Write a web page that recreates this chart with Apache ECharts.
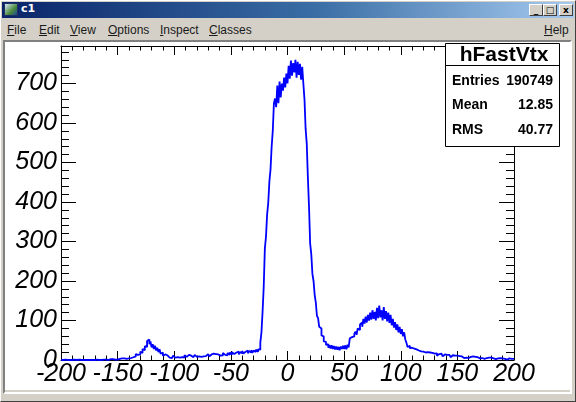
<!DOCTYPE html>
<html><head><meta charset="utf-8">
<script src="https://cdn.jsdelivr.net/npm/echarts@6/dist/echarts.min.js"></script>
<style>
html,body{margin:0;padding:0;width:576px;height:402px;overflow:hidden;background:#d4d0c8;font-family:'Liberation Sans',Arial,sans-serif;}
.abs{position:absolute;}
#winborder{left:0;top:0;width:574px;height:400px;border:1px solid;border-color:#ffffff #404040 #404040 #ffffff;}
#title{left:2px;top:2px;width:572px;height:16px;background:linear-gradient(to right,#0a246a 0%,#3a6ea5 55%,#a6caf0 100%);}
#icon{left:4px;top:3px;width:12px;height:11px;background:linear-gradient(135deg,#d8e8ff,#4a8a3a 60%,#1a4a9a);border:1px solid #203060;}
#ttext{left:21px;top:2px;height:16px;line-height:16px;color:#fff;font:bold 11px 'DejaVu Sans',sans-serif;}
.btn{top:4px;width:14px;height:12px;background:#d4d0c8;border:1px solid;border-color:#ffffff #404040 #404040 #ffffff;font:bold 9px 'DejaVu Sans',sans-serif;line-height:11px;text-align:center;color:#000;box-sizing:border-box;}
.menu{top:22px;height:16px;line-height:16px;font-size:12px;color:#1a1a1a;}
#canvasframe{left:3px;top:40px;width:565px;height:350px;border:2px solid;border-color:#808080 #ffffff #ffffff #808080;}
#chart{left:5px;top:42px;width:565px;height:348px;background:#fff;}
</style></head>
<body>
<div class="abs" id="winborder"></div>
<div class="abs" id="title"></div>
<div class="abs" id="icon"></div>
<div class="abs" id="ttext">c1</div>
<div class="abs btn" style="left:529px;">_</div>
<div class="abs btn" style="left:543px;">□</div>
<div class="abs btn" style="left:559px;">x</div>
<div class="abs menu" style="left:7px;"><u>F</u>ile</div>
<div class="abs menu" style="left:39px;"><u>E</u>dit</div>
<div class="abs menu" style="left:70px;"><u>V</u>iew</div>
<div class="abs menu" style="left:108px;"><u>O</u>ptions</div>
<div class="abs menu" style="left:160px;"><u>I</u>nspect</div>
<div class="abs menu" style="left:209px;"><u>C</u>lasses</div>
<div class="abs menu" style="left:544px;"><u>H</u>elp</div>
<div class="abs" id="canvasframe"></div>
<div class="abs" id="chart"></div>
<script>
// Histogram hFastVtx: 400 bins of width 1 from -200 to 200
const xMin = -200, xMax = 200, binWidth = 1;
const yMax = 795;
// bins -200 .. -151
const countsFlatLeft = [0,0,0,1,0,0,0,0,1,0, 0,1,0,0,0,1,0,0,0,0, 0,0,1,0,0,0,1,0,1,0, 0,1,0,0,1,0,0,1,0,1, 1,0,1,2,0,2,1,1,3,1];
// bins -150 .. -106 (small peak)
const countsSmallPeak = [1,3,2,4,2,4,5,3,6,4, 7,5,10,7,12,9,15,13,17,14, 21,18,28,25,35,33,48,52,40,47, 32,40,28,36,24,31,20,27,16,19, 11,14,9,12,7];
// bins -105 .. -26 (slow rising floor)
const countsFloor = [6,10,5,9,11,6,10,7,12,6, 10,7,11,6,12,8,7,13,8,11, 12,7,11,13,8,12,9,14,8,13, 9,14,10,8,15,11,9,14,10,16, 11,15,10,14,17,11,16,12,18,13, 16,12,18,13,19,14,20,15,13,19, 16,21,14,20,17,23,16,21,18,24, 17,23,19,25,18,24,20,26,21,27];
// bins -25 .. 34 (main peak)
const countsMainPeak = [26,44,70,122,185,282,312,368,398,452, 482,540,580,650,662,640,695,650,705,665, 700,682,715,690,725,700,745,712,758,720, 752,728,760,715,755,722,750,710,742,700, 660,585,548,462,388,295,268,218,200,165, 145,112,106,84,80,62,60,47,46,38];
// bins 35 .. 120 (valley and second bump)
const countsSecondBump = [40,31,38,29,37,28,35,27,34,26, 33,25,34,28,36,28,37,27,39,32, 55,58,62,60,66,72,64,80,76,90, 95,84,104,92,110,95,114,100,120,102, 126,104,122,100,132,106,138,108,126,100, 134,104,124,98,120,94,114,88,104,82, 96,76,90,70,84,66,78,60,70,52, 44,33,36,30,31,27,29,25,27,23, 24,21,22,20,21,19];
// bins 121 .. 199 (tail)
const countsTail = [19,16,20,15,19,14,18,13,16,12, 17,11,15,10,16,11,9,14,10,13, 8,13,9,7,12,8,11,6,11,7, 10,6,9,11,5,9,6,10,5,9, 8,4,9,5,8,4,7,8,4,7, 5,7,3,6,5,2,6,3,6,3, 4,5,2,5,4,2,5,1,4,2, 3,4,1,3,4,1,3,2,3];
const counts = [].concat(countsFlatLeft, countsSmallPeak, countsFloor, countsMainPeak, countsSecondBump, countsTail);

const statsTitle = 'hFastVtx';
const statsLabels = ['Entries', 'Mean', 'RMS'];
const statsValues = ['190749', '12.85', '40.77'];

const stepData = counts.map((c, i) => [xMin + i * binWidth, c]);
stepData.push([xMax, counts[counts.length - 1]]);

const FONT = "'Liberation Sans', Arial, Helvetica, sans-serif";
const black = {color: '#000', width: 1};

function xAx(pos, labels) {
  return {
    type: 'value', min: xMin, max: xMax, interval: 50, position: pos,
    axisLine: {show: true, onZero: false, lineStyle: black},
    axisTick: {show: true, inside: true, length: 9, lineStyle: black},
    minorTick: {show: true, splitNumber: 5, length: 4.5, lineStyle: black},
    splitLine: {show: false}, minorSplitLine: {show: false},
    axisLabel: {show: labels, color: '#000', fontSize: 25, fontStyle: 'italic', fontFamily: FONT, margin: 2, showMinLabel: true, showMaxLabel: true}
  };
}
function yAx(pos, labels) {
  return {
    type: 'value', min: 0, max: yMax, interval: 100, position: pos,
    axisLine: {show: true, onZero: false, lineStyle: black},
    axisTick: {show: true, inside: true, length: 15, lineStyle: black},
    minorTick: {show: true, splitNumber: 5, length: 8, lineStyle: black},
    splitLine: {show: false}, minorSplitLine: {show: false},
    axisLabel: {show: labels, color: '#000', fontSize: 25, fontStyle: 'italic', fontFamily: FONT, margin: 4, showMinLabel: true,
      formatter: v => (v % 100 === 0 ? String(v) : '')}
  };
}

const chart = echarts.init(document.getElementById('chart'), null, {renderer: 'canvas'});
const boxL = 440, boxT = 1, boxW = 114, boxH = 103;
const graphic = [
  {type: 'rect', z: 100, shape: {x: boxL + 0.5, y: boxT + 0.5, width: boxW, height: boxH}, style: {fill: '#fff', stroke: '#000', lineWidth: 1}},
  {type: 'line', z: 101, shape: {x1: boxL + 0.5, y1: 23.5, x2: boxL + boxW + 0.5, y2: 23.5}, style: {stroke: '#000', lineWidth: 1}},
  {type: 'text', z: 102, style: {text: statsTitle, x: 499, y: 13, align: 'center', verticalAlign: 'middle', font: 'bold 21px ' + FONT, fill: '#000'}}
];
const rowY = [39, 63, 88];
statsLabels.forEach((lab, i) => {
  graphic.push({type: 'text', z: 102, style: {text: lab, x: 447, y: rowY[i], align: 'left', verticalAlign: 'middle', font: 'bold 14px ' + FONT, fill: '#000'}});
  graphic.push({type: 'text', z: 102, style: {text: statsValues[i], x: 548, y: rowY[i], align: 'right', verticalAlign: 'middle', font: 'bold 14px ' + FONT, fill: '#000'}});
});

chart.setOption({
  animation: false,
  backgroundColor: '#fff',
  grid: {left: 56, top: 4, width: 453, height: 314, containLabel: false, outerBoundsMode: 'none', show: false},
  xAxis: [xAx('bottom', true), xAx('top', false)],
  yAxis: [yAx('left', true), yAx('right', false)],
  series: [{
    type: 'line', xAxisIndex: 0, yAxisIndex: 0, data: stepData, step: 'end', symbol: 'none',
    lineStyle: {color: '#0000ff', width: 1.8}, itemStyle: {color: '#0000ff'}, clip: true, z: 5
  }],
  graphic: graphic
});
</script>
</body></html>
